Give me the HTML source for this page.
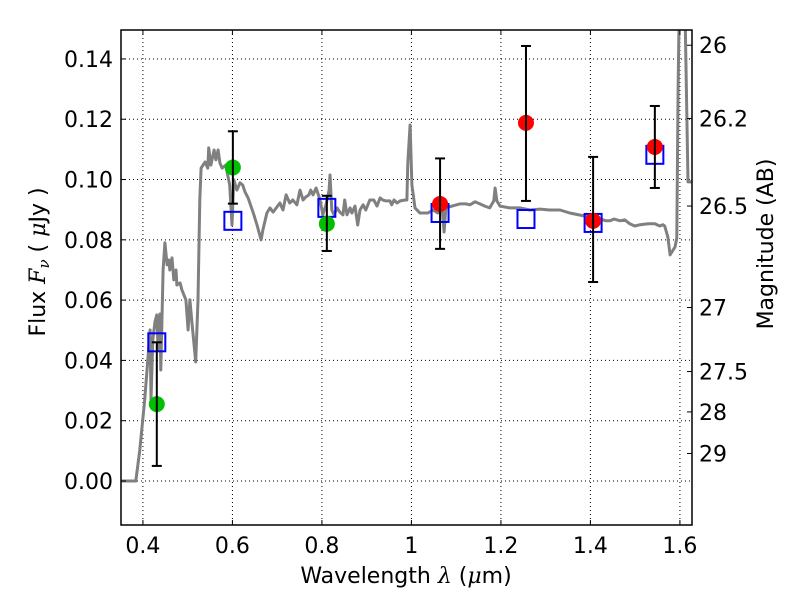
<!DOCTYPE html>
<html><head><meta charset="utf-8"><style>
body{margin:0;background:#fff;}
svg text{font-family:"DejaVu Sans","Liberation Sans",sans-serif;fill:#000;}
</style></head><body>
<svg id="chart" width="800" height="600" xmlns="http://www.w3.org/2000/svg">
<rect x="0" y="0" width="800" height="600" fill="#fff"/>
<g id="grid"></g>
<g id="curve"></g>
<g id="marks"></g>
<g id="axes"></g>
</svg>
<script>
const xTicks=[0.4,0.6,0.8,1,1.2,1.4,1.6];
const xTickLabels=["0.4","0.6","0.8","1","1.2","1.4","1.6"];
const yTicks=[0,0.02,0.04,0.06,0.08,0.1,0.12,0.14];
const yTickLabels=["0.00","0.02","0.04","0.06","0.08","0.10","0.12","0.14"];
const magTicks=[26,26.2,26.5,27,27.5,28,29];
const magTickLabels=["26","26.2","26.5","27","27.5","28","29"];
const modelWl=[0.351,0.384,0.393,0.404,0.411,0.416,0.418,0.422,0.427,0.431,0.434,0.438,0.440,0.445,0.449,0.454,0.458,0.460,0.465,0.469,0.474,0.476,0.483,0.487,0.496,0.501,0.505,0.509,0.518,0.523,0.527,0.530,0.539,0.545,0.547,0.552,0.559,0.563,0.568,0.572,0.577,0.585,0.594,0.599,0.603,0.610,0.617,0.623,0.628,0.635,0.648,0.655,0.664,0.668,0.677,0.684,0.691,0.706,0.713,0.720,0.728,0.735,0.744,0.751,0.758,0.764,0.771,0.775,0.780,0.787,0.796,0.802,0.809,0.816,0.818,0.822,0.827,0.834,0.840,0.847,0.851,0.856,0.863,0.867,0.874,0.880,0.885,0.892,0.898,0.907,0.916,0.923,0.930,0.936,0.943,0.952,0.956,0.961,0.968,0.975,0.986,0.990,0.992,0.997,1.001,1.008,1.019,1.037,1.048,1.059,1.068,1.073,1.077,1.091,1.108,1.122,1.131,1.142,1.153,1.164,1.175,1.184,1.187,1.191,1.198,1.220,1.242,1.265,1.287,1.309,1.332,1.354,1.377,1.399,1.421,1.435,1.444,1.453,1.466,1.477,1.488,1.499,1.511,1.529,1.544,1.555,1.562,1.566,1.573,1.578,1.582,1.589,1.593,1.596,1.598,1.609,1.611,1.618,1.627];
const modelFlux=[0,0,0.0103,0.0269,0.0401,0.0501,0.0269,0.0468,0.0528,0.0551,0.0435,0.0554,0.0368,0.0700,0.0790,0.0717,0.0733,0.0700,0.0740,0.0667,0.0700,0.0650,0.0657,0.0634,0.0601,0.0501,0.0601,0.0534,0.0395,0.0601,0.0932,0.1038,0.1058,0.1038,0.1105,0.1048,0.1098,0.1065,0.1098,0.1055,0.1038,0.1048,0.0982,0.0849,0.0999,0.0965,0.0989,0.0982,0.0959,0.0939,0.0883,0.0849,0.0800,0.0833,0.0889,0.0906,0.0892,0.0922,0.0899,0.0949,0.0922,0.0932,0.0916,0.0965,0.0932,0.0942,0.0949,0.0965,0.0949,0.0972,0.0932,0.0883,0.0916,0.0965,0.1015,0.0899,0.0883,0.0906,0.0892,0.0883,0.0932,0.0883,0.0906,0.0889,0.0912,0.0849,0.0899,0.0916,0.0899,0.0932,0.0932,0.0912,0.0939,0.0932,0.0929,0.0929,0.0916,0.0932,0.0922,0.0929,0.0932,0.0932,0.1055,0.1181,0.0982,0.0906,0.0889,0.0889,0.0899,0.0889,0.0916,0.0826,0.0906,0.0912,0.0919,0.0919,0.0916,0.0926,0.0919,0.0912,0.0906,0.0929,0.0972,0.0929,0.0912,0.0906,0.0906,0.0899,0.0902,0.0899,0.0899,0.0889,0.0882,0.0876,0.0869,0.0863,0.0863,0.0869,0.0863,0.0866,0.0853,0.0846,0.0850,0.0853,0.0853,0.0846,0.0850,0.0846,0.0810,0.0750,0.0760,0.0776,0.0806,0.1300,0.1520,0.1600,0.1600,0.0992,0.0992,0.1005];
const obsWl=[0.431,0.601,0.811,1.064,1.256,1.406,1.544];
const obsFlux=[0.0255,0.104,0.0853,0.0919,0.1188,0.0863,0.1108];
const obsErrHi=[0.046,0.116,0.0946,0.107,0.1443,0.1075,0.1244];
const obsErrLo=[0.005,0.092,0.0763,0.077,0.0929,0.066,0.0972];
const obsColor=["#00bf00","#00bf00","#00bf00","#ff0000","#ff0000","#ff0000","#ff0000"];
const modelPhot=[0.046,0.0863,0.0906,0.0889,0.0869,0.0856,0.1082];

const L=121,R=692,T=30,B=525;
const X0=0.351,X1=1.627,Y0=-0.0146,Y1=0.1496;
const sx=v=>L+(v-X0)/(X1-X0)*(R-L);
const sy=v=>B-(v-Y0)/(Y1-Y0)*(B-T);
const magToFlux=m=>Math.pow(10,(23.9-m)/2.5);
const NS="http://www.w3.org/2000/svg";
function mk(tag,parent,attrs){const e=document.createElementNS(NS,tag);for(const k in attrs)e.setAttribute(k,attrs[k]);parent.appendChild(e);return e;}
const grid=document.getElementById('grid'),curve=document.getElementById('curve'),marks=document.getElementById('marks'),axes=document.getElementById('axes');

xTicks.forEach((t,i)=>{
  const g=mk('line',grid,{x1:sx(t),x2:sx(t),y1:T,y2:B,stroke:'#000','stroke-width':1,'stroke-dasharray':'1,3'});
  
  
  mk('line',axes,{x1:sx(t),x2:sx(t),y1:B,y2:B-5,stroke:'#000','stroke-width':1});
  mk('line',axes,{x1:sx(t),x2:sx(t),y1:T,y2:T+5,stroke:'#000','stroke-width':1});
  const tx=mk('text',axes,{x:sx(t),y:B+28,'font-size':22,'text-anchor':'middle'});
  tx.textContent=xTickLabels[i];
  
  
});
yTicks.forEach((t,i)=>{
  const g=mk('line',grid,{x1:L,x2:R,y1:sy(t),y2:sy(t),stroke:'#000','stroke-width':1,'stroke-dasharray':'1,3'});
  
  
  mk('line',axes,{x1:L,x2:L+5,y1:sy(t),y2:sy(t),stroke:'#000','stroke-width':1});
  const tx=mk('text',axes,{x:L-8,y:sy(t)+8,'font-size':22,'text-anchor':'end'});
  tx.textContent=yTickLabels[i];
  
  
});
magTicks.forEach((m,i)=>{
  const y=sy(magToFlux(m));
  mk('line',axes,{x1:R,x2:R-5,y1:y,y2:y,stroke:'#000','stroke-width':1});
  const tx=mk('text',axes,{x:R+7,y:y+8,'font-size':22,'text-anchor':'start'});
  tx.textContent=magTickLabels[i];
  
  
});

let d='';
modelWl.forEach((w,i)=>{d+=(i?'L':'M')+sx(w).toFixed(1)+','+sy(modelFlux[i]).toFixed(1);});
const cp=mk('clipPath',curve,{id:'clip'});mk('rect',cp,{x:L,y:T,width:R-L,height:B-T});
const p=mk('path',curve,{d:d,fill:'none',stroke:'#808080','stroke-width':3,'stroke-linejoin':'round','clip-path':'url(#clip)'});



obsWl.forEach((w,i)=>{
  const x=sx(w);
  const sq=mk('rect',marks,{x:x-8.5,y:sy(modelPhot[i])-9,width:17,height:18,fill:'none',stroke:'#0000ff','stroke-width':2});
  
  
  const c=mk('circle',marks,{cx:x,cy:sy(obsFlux[i]),r:8,fill:obsColor[i]});
  
  
  const eb=mk('g',marks,{stroke:'#000','stroke-width':2});
  
  
  mk('line',eb,{x1:x,x2:x,y1:sy(obsErrHi[i]),y2:sy(obsErrLo[i])});
  mk('line',eb,{x1:x-5,x2:x+5,y1:sy(obsErrHi[i]),y2:sy(obsErrHi[i])});
  mk('line',eb,{x1:x-5,x2:x+5,y1:sy(obsErrLo[i]),y2:sy(obsErrLo[i])});
});

const fr=mk('rect',axes,{x:L,y:T,width:R-L,height:B-T,fill:'none',stroke:'#000','stroke-width':1.5});


const xl=mk('text',axes,{x:406,y:583,'font-size':22,'text-anchor':'middle'});
xl.innerHTML='Wavelength  <tspan font-style="italic" font-family="DejaVu Serif, serif">λ</tspan> (<tspan font-style="italic" font-family="DejaVu Serif, serif">μ</tspan>m)';


const yl=mk('text',axes,{x:0,y:0,'font-size':22,'text-anchor':'middle',transform:'translate(45,262) rotate(-90)'});
yl.innerHTML='Flux  <tspan font-style="italic" font-family="DejaVu Serif, serif">F</tspan><tspan font-style="italic" font-size="15" dy="4" font-family="DejaVu Serif, serif">ν</tspan><tspan dy="-4">  (  </tspan><tspan font-style="italic" font-family="DejaVu Serif, serif">μ</tspan>Jy )';


const rl=mk('text',axes,{x:0,y:0,'font-size':22,'text-anchor':'middle',transform:'translate(773,244) rotate(-90)'});
rl.textContent='Magnitude (AB)';


</script>
</body></html>
